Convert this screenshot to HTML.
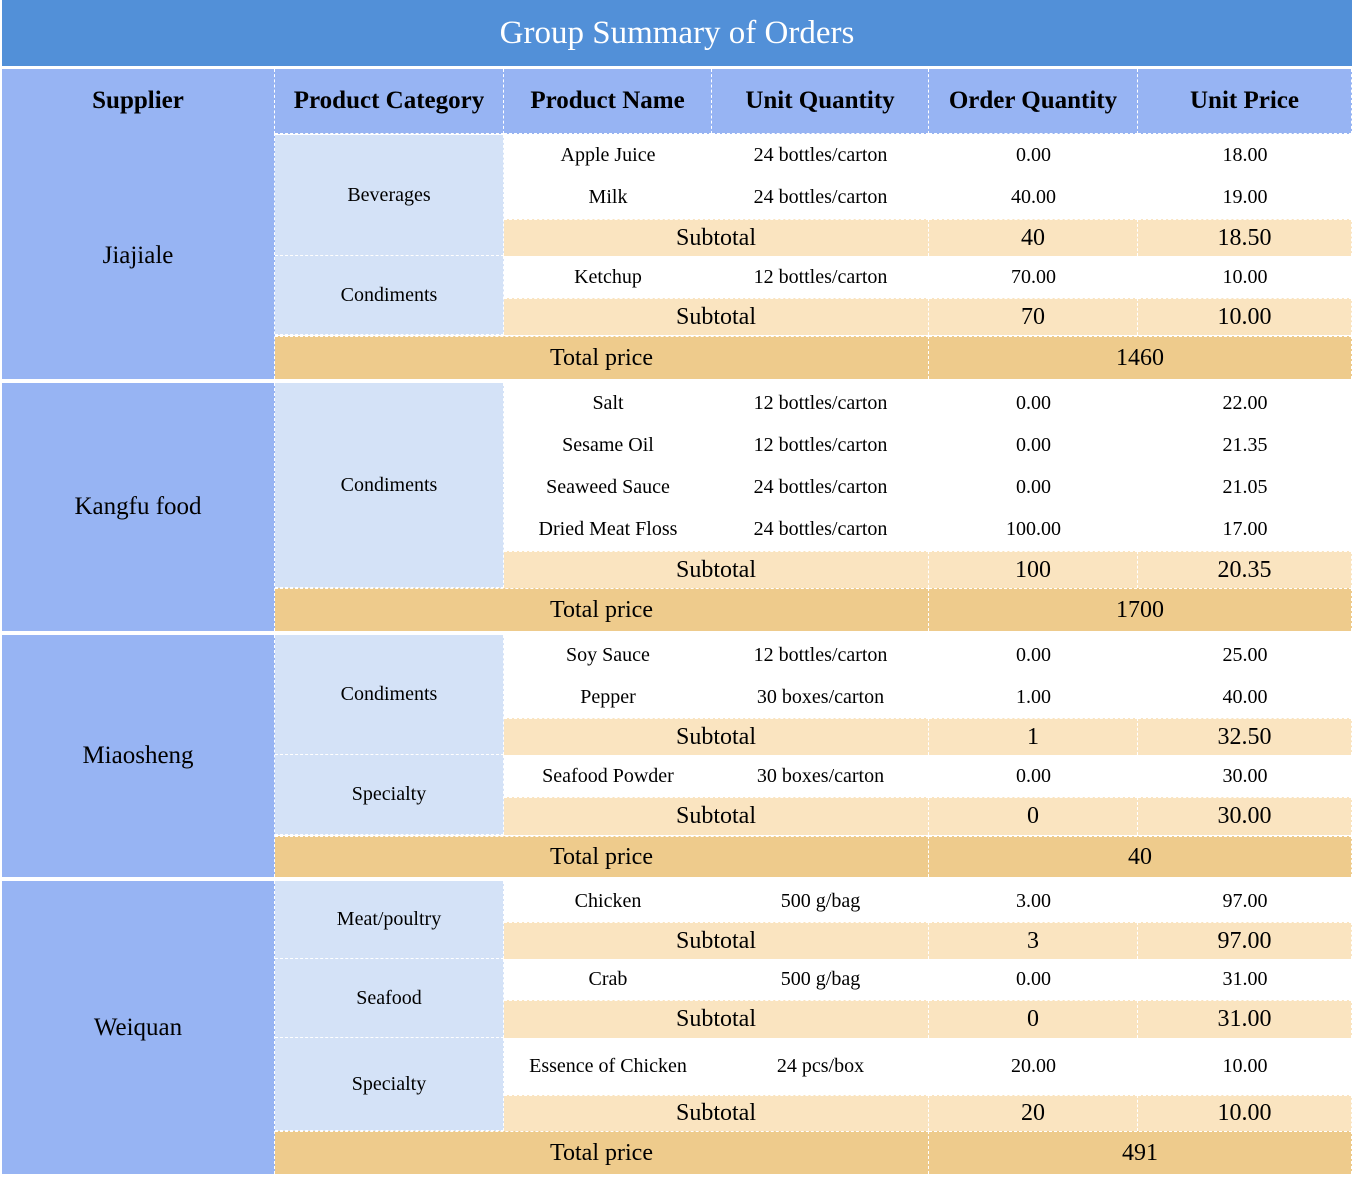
<!DOCTYPE html>
<html><head><meta charset="utf-8">
<style>
body{margin:0;width:1354px;height:1178px;background:#fff;position:relative;overflow:hidden;font-family:"Liberation Serif",serif;color:#000}
.c{position:absolute;display:flex;align-items:center;justify-content:center;box-sizing:border-box;white-space:nowrap}
.title{background:#5290d8;color:#fff;font-size:33px}
.hd{background:#97b4f3;font-weight:bold;font-size:25px;border-right:1px dashed #fff;border-bottom:1px dashed #fff}
.sup{background:#97b4f3;font-size:25px;border-right:1px dashed #fff}
.cat{background:#d4e2f7;font-size:20px;border-bottom:1px dashed #fff}
.row{font-size:20px}
.sub{background:#fae4c0;font-size:24px;border-top:1px dashed #fff;border-right:1px dashed #fff}
.tot{background:#eecb8c;font-size:24px;border-top:1px dashed #fff;border-right:1px dashed #fff}
</style></head><body>
<div class="c title" style="left:2px;top:0;width:1350px;height:66px">Group Summary of Orders</div>
<div id="t"></div>
<script>
var X=[2,275,504,712,929,1138,1352];
var headers=["Supplier","Product Category","Product Name","Unit Quantity","Order Quantity","Unit Price"];
var suppliers=["Jiajiale","Kangfu food","Miaosheng","Weiquan"];
var supplierY=[[133,379],[383,631],[635,877],[881,1174]];
var totals=["1460","1700","40","491"];
var totalY=[[336,379],[588,631],[836,877],[1131,1174]];
var categories=["Beverages","Condiments","Condiments","Condiments","Specialty","Meat/poultry","Seafood","Specialty"];
var categoryY=[[135,256],[256,335],[383,588],[635,755],[755,835],[881,959],[959,1038],[1038,1131]];
var productNames=["Apple Juice","Milk","Ketchup","Salt","Sesame Oil","Seaweed Sauce","Dried Meat Floss","Soy Sauce","Pepper","Seafood Powder","Chicken","Crab","Essence of Chicken"];
var unitQty=["24 bottles/carton","24 bottles/carton","12 bottles/carton","12 bottles/carton","12 bottles/carton","24 bottles/carton","24 bottles/carton","12 bottles/carton","30 boxes/carton","30 boxes/carton","500 g/bag","500 g/bag","24 pcs/box"];
var orderQty=["0.00","40.00","70.00","0.00","0.00","0.00","100.00","0.00","1.00","0.00","3.00","0.00","20.00"];
var unitPrice=["18.00","19.00","10.00","22.00","21.35","21.05","17.00","25.00","40.00","30.00","97.00","31.00","10.00"];
var productY=[[135,176],[176,219],[256,298],[383,424],[424,466],[466,508],[508,551],[635,676],[676,718],[755,797],[881,922],[959,1000],[1038,1095]];
var subQty=["40","70","100","1","0","3","0","20"];
var subPrice=["18.50","10.00","20.35","32.50","30.00","97.00","31.00","10.00"];
var subY=[[219,256],[298,335],[551,588],[718,755],[797,835],[922,959],[1000,1038],[1095,1131]];
var T=document.body;
function cell(x1,y1,x2,y2,txt,cls){var d=document.createElement('div');d.className='c '+cls;d.style.left=x1+'px';d.style.top=y1+'px';d.style.width=(x2-x1)+'px';d.style.height=(y2-y1)+'px';d.textContent=txt;T.appendChild(d);return d;}
var i,d;
for(i=0;i<headers.length;i++){d=cell(X[i],69,X[i+1],134,headers[i],'hd');

}
for(i=0;i<suppliers.length;i++){d=cell(X[0],supplierY[i][0],X[1],supplierY[i][1],suppliers[i],'sup');


d=cell(X[1],totalY[i][0],X[4],totalY[i][1],'Total price','tot');


d=cell(X[4],totalY[i][0],X[6],totalY[i][1],totals[i],'tot');

}
for(i=0;i<categories.length;i++){d=cell(X[1],categoryY[i][0],X[2],categoryY[i][1],categories[i],'cat');
d.style.borderRight='1px dashed #fff';


d=cell(X[2],subY[i][0],X[4],subY[i][1],'Subtotal','sub');


d=cell(X[4],subY[i][0],X[5],subY[i][1],subQty[i],'sub');


d=cell(X[5],subY[i][0],X[6],subY[i][1],subPrice[i],'sub');

}
for(i=0;i<productNames.length;i++){var y1=productY[i][0],y2=productY[i][1];
d=cell(X[2],y1,X[3],y2,productNames[i],'row');


d=cell(X[3],y1,X[4],y2,unitQty[i],'row');


d=cell(X[4],y1,X[5],y2,orderQty[i],'row');


d=cell(X[5],y1,X[6],y2,unitPrice[i],'row');

}
</script>
</body></html>
